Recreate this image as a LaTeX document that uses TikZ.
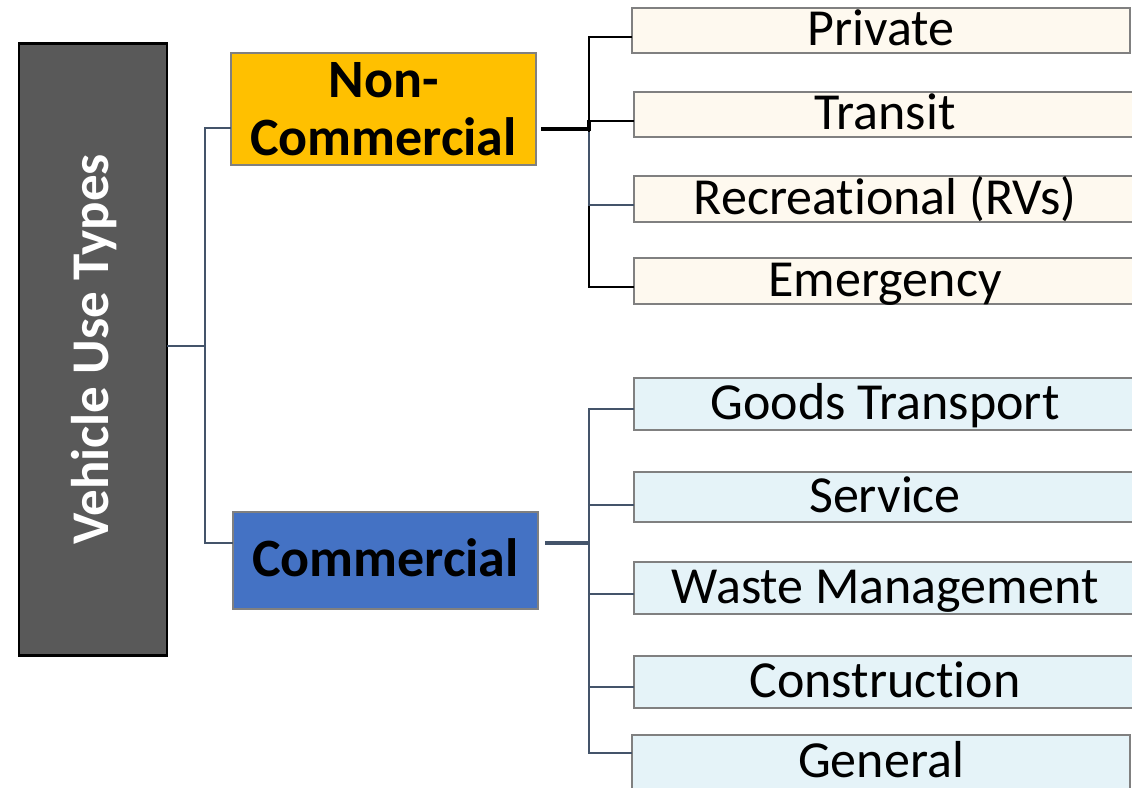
\documentclass[tikz,border=0pt]{standalone}
\usepackage{fontspec}
\setmainfont{Carlito}[Ligatures=NoCommon]
\definecolor{rootgray}{HTML}{595959}
\definecolor{ncyellow}{HTML}{FFC000}
\definecolor{cblue}{HTML}{4472C4}
\definecolor{boxgray}{HTML}{808080}
\definecolor{cream}{HTML}{FEF9EF}
\definecolor{lightblue}{HTML}{E5F3F8}
\definecolor{slate}{HTML}{44546A}
\begin{document}
\begin{tikzpicture}[x=1pt,y=-1pt,
  box/.style={draw=boxgray, line width=2.5pt, rectangle, inner sep=0pt, outer sep=0pt, anchor=north west},
  leaf/.style={box, font=\fontsize{52}{60}\selectfont, text height=36.4pt, text depth=6.2pt},
  ncleaf/.style={leaf, fill=cream},
  cleaf/.style={leaf, fill=lightblue},
  blk/.style={draw=black, line width=2pt},
  sl/.style={draw=slate, line width=2pt},
  trunkthick/.style={line width=3.5pt},
]
\useasboundingbox (0,0) rectangle (1132,787);
\clip (0,0) rectangle (1132,787);

% root
\node[box, anchor=center, draw=black, line width=2.5pt, fill=rootgray, rotate=90,
      minimum width=612pt, minimum height=148pt, text=white,
      font=\bfseries\fontsize{53}{60}\selectfont, text height=37.1pt, text depth=6.4pt]
      (root) at (93,349.5) {Vehicle Use Types};

% second level
\node[box, fill=ncyellow, minimum width=305pt, minimum height=112pt, align=center,
      font=\bfseries\fontsize{54}{58}\selectfont] (nc) at (231,53) {Non-\\Commercial};
\node[box, fill=cblue, minimum width=305pt, minimum height=97pt,
      font=\bfseries\fontsize{54}{60}\selectfont, text height=37.8pt, text depth=6.5pt]
      (com) at (233,512) {Commercial};

% non-commercial leaves
\node[ncleaf, minimum width=498pt, minimum height=45pt] (p1) at (632,8) {Private};
\node[ncleaf, minimum width=502pt, minimum height=45pt] (p2) at (634,92) {Transit};
\node[ncleaf, minimum width=502pt, minimum height=46pt] (p3) at (634,176) {Recreational (RVs)};
\node[ncleaf, minimum width=502pt, minimum height=46pt] (p4) at (634,258) {Emergency};

% commercial leaves
\node[cleaf, minimum width=502pt, minimum height=52pt] (c1) at (634,378) {Goods Transport};
\node[cleaf, minimum width=502pt, minimum height=50pt] (c2) at (634,472) {Service};
\node[cleaf, minimum width=502pt, minimum height=52pt] (c3) at (634,562) {Waste Management};
\node[cleaf, minimum width=502pt, minimum height=52pt] (c4) at (634,656) {Construction};
\node[cleaf, minimum width=498pt, minimum height=54pt] (c5) at (632,735) {General};

% root connectors
\coordinate (rj) at (205,346);
\draw[sl] (root.south |- rj) -- (rj);
\draw[sl] (rj) |- ([yshift=-19pt]nc.west);
\draw[sl] (rj) |- ([yshift=17.5pt]com.west);

% non-commercial connectors
\coordinate (ncj) at (589,129);
\draw[blk] ([yshift=-6pt]p1.west) -| (ncj);
\draw[blk] ([yshift=-6.5pt]p2.west) -| (ncj);
\draw[blk] ([yshift=-6pt]p4.west) -| (ncj);
\draw[sl] ([yshift=-6pt]p3.west) -| ([yshift=-2.5pt]ncj);
\draw[blk, trunkthick] ([xshift=5pt]nc.east |- ncj) -- (ncj) -- ++(0,-9);

% commercial connectors
\coordinate (cj) at (589,543);
\draw[sl] ([yshift=-5pt]c1.west) -| (cj);
\draw[sl] ([yshift=-8pt]c2.west) -| (cj);
\draw[sl] ([yshift=-6pt]c3.west) -| (cj);
\draw[sl] ([yshift=-5pt]c4.west) -| (cj);
\draw[sl] ([yshift=9pt]c5.west) -| (cj);
\draw[sl, trunkthick] ([xshift=7pt]com.east |- cj) -- (cj);
\end{tikzpicture}
\end{document}
